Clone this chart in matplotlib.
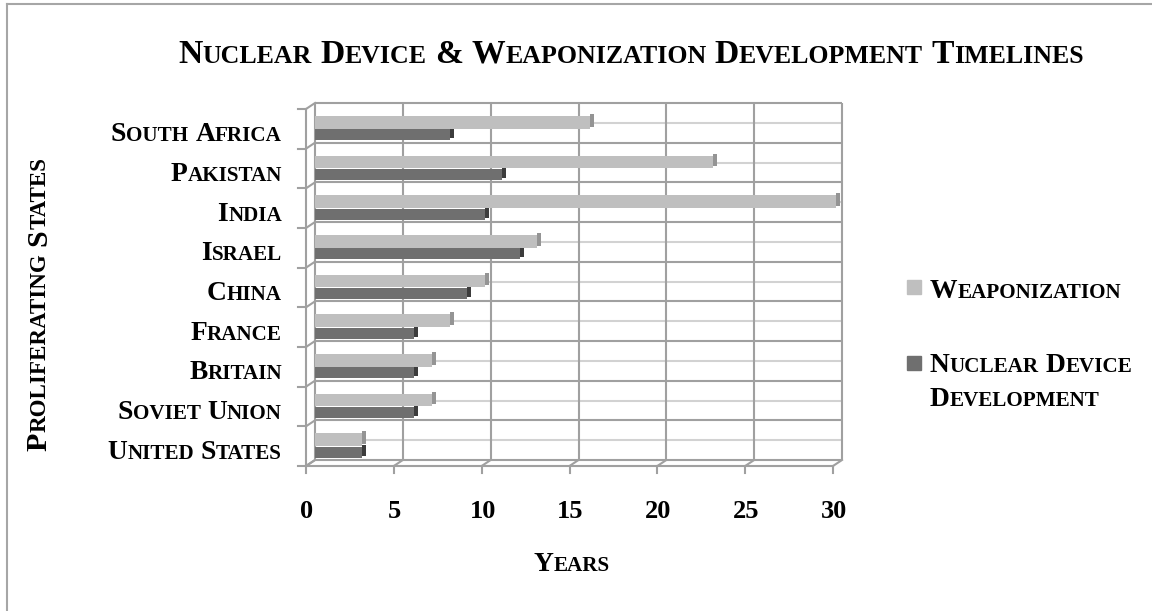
import matplotlib
matplotlib.use("Agg")
import matplotlib.pyplot as plt
import matplotlib.transforms as mtransforms
from matplotlib.lines import Line2D
from matplotlib.patches import Rectangle

# ── Data ──────────────────────────────────────────────────────────────────────

states = ["United States", "Soviet Union", "Britain", "France", "China",
          "Israel", "India", "Pakistan", "South Africa"]
weaponization = [3, 7, 7, 8, 10, 13, 30, 23, 16]
device_dev    = [3, 6, 6, 6, 9, 12, 10, 11, 8]
x_ticks       = [0, 5, 10, 15, 20, 25, 30]

TITLE   = "Nuclear Device & Weaponization Development Timelines"
YLABEL  = "Proliferating States"
XLABEL  = "Years"
LEGEND  = ["Weaponization", "Nuclear Device Development"]

# ── Style ─────────────────────────────────────────────────────────────────────

W, H = 1152, 611
FONT = "Liberation Serif"
LIGHT, LIGHT_END = "#bfbfbf", "#949494"
DARK,  DARK_END  = "#6f6f6f", "#3c3c3c"
WALL  = "#a0a0a0"
MINOR = "#d2d2d2"
DX, DY = -9, -6          # depth offset back wall -> front, in pixels

fig = plt.figure(figsize=(W / 100, H / 100), dpi=100)
ax = fig.add_axes([315 / W, 1 - 460 / H, 527 / W, 357 / H])
ax.set_xlim(0, 30)
ax.set_ylim(-0.5, len(states) - 0.5)
ax.set_axis_off()

ident = mtransforms.IdentityTransform()
renderer = fig.canvas.get_renderer()


def smallcaps(x, y, s, size, ha="left", rot=0, ratio=0.77):
    """Draw s in bold small caps, baseline at display pixel (x, y)."""
    small = size * ratio
    tokens = []
    for i, word in enumerate(s.split(" ")):
        if i:
            tokens.append((" ", size))
        run, big = "", None
        for ch in word:
            b = not ch.islower()
            if big is not None and b != big:
                tokens.append((run, size if big else small))
                run = ""
            run += ch.upper()
            big = b
        if run:
            tokens.append((run, size if big else small))

    widths, texts = [], []
    for txt, sz in tokens:
        if txt == " ":
            widths.append(sz * 0.25 * 100 / 72)
            texts.append(None)
            continue
        t = fig.text(0, 0, txt, fontsize=sz, family=FONT, weight="bold",
                     transform=ident, ha="left", va="baseline",
                     rotation=rot, rotation_mode="anchor")
        ext = t.get_window_extent(renderer)
        widths.append(ext.width if rot == 0 else ext.height)
        texts.append(t)
    total = sum(widths)
    pos = {"left": 0, "center": -total / 2, "right": -total}[ha]
    for t, w in zip(texts, widths):
        if t is not None:
            t.set_position((x + pos, y) if rot == 0 else (x, y + pos))
        pos += w


def pline(xs, ys, **kw):
    fig.add_artist(Line2D(xs, ys, transform=ident, **kw))


# ── Back wall grid ────────────────────────────────────────────────────────────

n = len(states)
ax.vlines(x_ticks, -0.5, n - 0.5, color=WALL, lw=1.5, zorder=1, clip_on=False)
ax.hlines([k - 0.5 for k in range(n + 1)], 0, 30, color=WALL, lw=1.5,
          zorder=1, clip_on=False)
ax.hlines(range(n), 0, 30, color=MINOR, lw=1.5, zorder=0.9, clip_on=False)

# ── Bars ──────────────────────────────────────────────────────────────────────

bar_tr = mtransforms.offset_copy(ax.transData, fig=fig, x=-6, y=0, units="dots")
cap_tr = mtransforms.offset_copy(ax.transData, fig=fig, x=-6, y=2, units="dots")
cap_w = 4 / (527 / 30)
ypos = list(range(n))
y_w = [y + 0.01 for y in ypos]
y_d = [y - 0.30 for y in ypos]

ax.barh(y_w, [cap_w] * n, left=weaponization, height=0.32,
        color=LIGHT_END, transform=cap_tr, zorder=2)
ax.barh(y_w, weaponization, height=0.32, color=LIGHT,
        transform=bar_tr, zorder=3)
ax.barh(y_d, [cap_w] * n, left=device_dev, height=0.28,
        color=DARK_END, transform=cap_tr, zorder=2)
ax.barh(y_d, device_dev, height=0.28, color=DARK,
        transform=bar_tr, zorder=3)

ax.set_xlim(0, 30)
ax.set_ylim(-0.5, n - 0.5)

# ── Side wall and floor (3D look) ─────────────────────────────────────────────

td = ax.transData
x0, ybot = td.transform((0, -0.5))
x30, ytop = td.transform((30, n - 0.5))

pline([x0 + DX, x0 + DX], [ybot + DY, ytop + DY], color=WALL, lw=1.5)
for k in range(n + 1):
    _, yb = td.transform((0, k - 0.5))
    pline([x0, x0 + DX], [yb, yb + DY], color=WALL, lw=1.5)
    pline([x0 + DX, x0 + DX - 8], [yb + DY, yb + DY], color=WALL, lw=1.5)

pline([x0 + DX, x30 + DX], [ybot + DY, ybot + DY], color=WALL, lw=1.5)
for v in x_ticks:
    xb, _ = td.transform((v, -0.5))
    pline([xb, xb + DX], [ybot, ybot + DY], color=WALL, lw=1.5)
    pline([xb + DX, xb + DX], [ybot + DY, ybot + DY - 7], color=WALL, lw=1.5)
    fig.text(xb + DX + 1, ybot + DY - 52, str(v), transform=ident,
             fontsize=19, family=FONT, weight="bold", ha="center",
             va="baseline")

# ── Text ──────────────────────────────────────────────────────────────────────

for i, name in enumerate(states):
    _, yc = td.transform((0, i))
    smallcaps(x0 - 33, yc - 18.5, name, 19.8, ha="right")

smallcaps(631, H - 62.7, TITLE, 24.2, ha="center")
smallcaps(46, H - 304, YLABEL, 21.5, ha="center", rot=90)
smallcaps(572, H - 571, XLABEL, 19.8, ha="center")

# legend
fig.add_artist(Rectangle((907, H - 294), 14, 14, color=LIGHT, transform=ident))
fig.add_artist(Rectangle((907, H - 370), 14, 14, color=DARK, transform=ident))
smallcaps(930, H - 298, LEGEND[0], 19.8)
words = LEGEND[1].split(" ")
smallcaps(930, H - 372, " ".join(words[:2]), 19.8)
smallcaps(930, H - 406, words[2], 19.8)

# frame of the chart area
pline([7, 7], [0, H - 4], color="#a6a6a6", lw=1.5)
pline([7, W], [H - 4, H - 4], color="#a6a6a6", lw=1.5)

fig.savefig("out.png", dpi=100)
